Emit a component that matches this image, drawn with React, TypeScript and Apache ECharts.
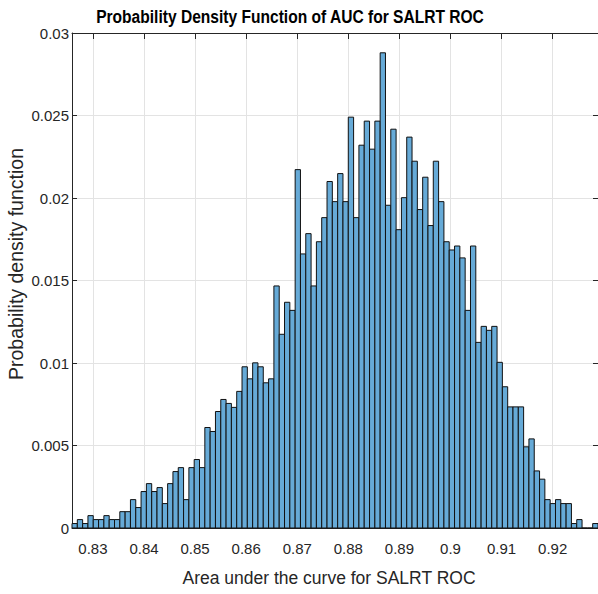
import React, { useEffect, useRef } from "react";
import * as echarts from "echarts";

const binStart = 0.82591;
const binWidth = 0.00104;
const binHeights = [
  0.00027, 0.00051, 0.00027, 0.00075, 0.00051, 0.00051, 0.00075, 0.00051, 0.00051, 0.00099,
  0.00099, 0.00172, 0.00124, 0.00221, 0.00269, 0.00221, 0.00245, 0.00148, 0.00269, 0.00342,
  0.00366, 0.00172, 0.00366, 0.00415, 0.00366, 0.00609, 0.00585, 0.00706, 0.00779, 0.00755,
  0.00731, 0.00828, 0.00977, 0.00904, 0.01001, 0.00977, 0.0088, 0.00904, 0.01467, 0.01174,
  0.01368, 0.01319, 0.02172, 0.01661, 0.01784, 0.01467, 0.01735, 0.01881, 0.021, 0.01978,
  0.02148, 0.01978, 0.0249, 0.01881, 0.0232, 0.02466, 0.02296, 0.02466, 0.0288, 0.01956,
  0.02417, 0.01808, 0.02002, 0.02369, 0.02223, 0.0193, 0.02126, 0.01833, 0.02223, 0.01978,
  0.01735, 0.01685, 0.01709, 0.01637, 0.01319, 0.01709, 0.01125, 0.01222, 0.01198, 0.01222,
  0.01004, 0.00856, 0.00734, 0.00734, 0.00734, 0.00492, 0.0054, 0.00346, 0.00296, 0.00172,
  0.00148, 0.00172, 0.00148, 0.00148, 0.00027, 0.00051, 0, 0, 0.00027,
];
const xTicks = [0.83, 0.84, 0.85, 0.86, 0.87, 0.88, 0.89, 0.9, 0.91, 0.92];
const yMax = 0.03;
const yStep = 0.005;

const titleText = "Probability Density Function of AUC for SALRT ROC";
const xLabelText = "Area under the curve for SALRT ROC";
const yLabelText = "Probability density function";

const FONT = '"Liberation Sans", Arial, Helvetica, sans-serif';
const AXIS = "#262626";
const GRID = "#e3e3e3";

export default function App() {
  const ref = useRef<HTMLDivElement>(null);
  useEffect(() => {
    if (!ref.current) return;
    const chart = echarts.init(ref.current, null, { renderer: "svg" });
    const xMin = binStart;
    const xMax = binStart + binHeights.length * binWidth;
    const data = binHeights.map((h, i) => [
      binStart + i * binWidth,
      binStart + (i + 1) * binWidth,
      h,
    ]);
    const tickStyle = { color: AXIS, width: 1 };
    chart.setOption({
      animation: false,
      grid: { left: 72, top: 33, bottom: 66, right: -3, containLabel: false },
      xAxis: [
        {
          type: "value",
          min: xMin,
          max: xMax,
          position: "bottom",
          axisLine: { show: true, onZero: false, lineStyle: tickStyle },
          axisTick: { show: true, inside: true, length: 6, customValues: xTicks, lineStyle: tickStyle },
          axisLabel: { customValues: xTicks, fontSize: 15, color: AXIS, margin: 13, fontFamily: FONT },
          splitLine: { show: true, lineStyle: { color: GRID, width: 1 } },
        },
        {
          type: "value",
          min: xMin,
          max: xMax,
          position: "top",
          axisLine: { show: true, onZero: false, lineStyle: tickStyle },
          axisTick: { show: true, inside: true, length: 6, customValues: xTicks, lineStyle: tickStyle },
          axisLabel: { show: false },
          splitLine: { show: false },
        },
      ],
      yAxis: [
        {
          type: "value",
          min: 0,
          max: yMax,
          interval: yStep,
          position: "left",
          axisLine: { show: true, onZero: false, lineStyle: tickStyle },
          axisTick: { show: true, inside: true, length: 5, lineStyle: tickStyle },
          axisLabel: { fontSize: 15, color: AXIS, margin: 3, fontFamily: FONT },
          splitLine: { show: true, lineStyle: { color: GRID, width: 1 } },
        },
        {
          type: "value",
          min: 0,
          max: yMax,
          interval: yStep,
          position: "right",
          axisLine: { show: true, onZero: false, lineStyle: tickStyle },
          axisTick: { show: true, inside: true, length: 5, lineStyle: tickStyle },
          axisLabel: { show: false },
          splitLine: { show: false },
        },
      ],
      series: [
        {
          type: "custom",
          xAxisIndex: 0,
          yAxisIndex: 0,
          encode: { x: [0, 1], y: 2 },
          data,
          renderItem: (params: any, api: any) => {
            const x0 = api.value(0);
            const x1 = api.value(1);
            const h = api.value(2);
            const p0 = api.coord([x0, h]);
            const p1 = api.coord([x1, 0]);
            return {
              type: "rect",
              shape: { x: p0[0], y: p0[1], width: p1[0] - p0[0], height: p1[1] - p0[1] },
              style: { fill: "#66aad7", stroke: "#111111", lineWidth: 1 },
            };
          },
        },
      ],
      graphic: [
        {
          type: "text",
          x: 290,
          y: 16.5,
          scaleX: 0.82,
          style: {
            text: titleText,
            fontSize: 19,
            fontWeight: "bold",
            fontFamily: FONT,
            fill: "#000000",
            align: "center",
            verticalAlign: "middle",
            textAlign: "center",
            textVerticalAlign: "middle",
          },
        },
        {
          type: "text",
          x: 329,
          y: 578,
          style: {
            text: xLabelText,
            fontSize: 17.5,
            fontFamily: FONT,
            fill: AXIS,
            align: "center",
            verticalAlign: "middle",
            textAlign: "center",
            textVerticalAlign: "middle",
          },
        },
        {
          type: "text",
          x: 16,
          y: 264,
          rotation: Math.PI / 2,
          style: {
            text: yLabelText,
            fontSize: 19.5,
            fontFamily: FONT,
            fill: AXIS,
            align: "center",
            verticalAlign: "middle",
            textAlign: "center",
            textVerticalAlign: "middle",
          },
        },
      ],
    });
    return () => chart.dispose();
  }, []);
  return (
    <div style={{ position: "fixed", left: 0, top: 0, width: 598, height: 594, overflow: "hidden", background: "#fff" }}>
      <div ref={ref} style={{ width: 598, height: 594 }} />
    </div>
  );
}
